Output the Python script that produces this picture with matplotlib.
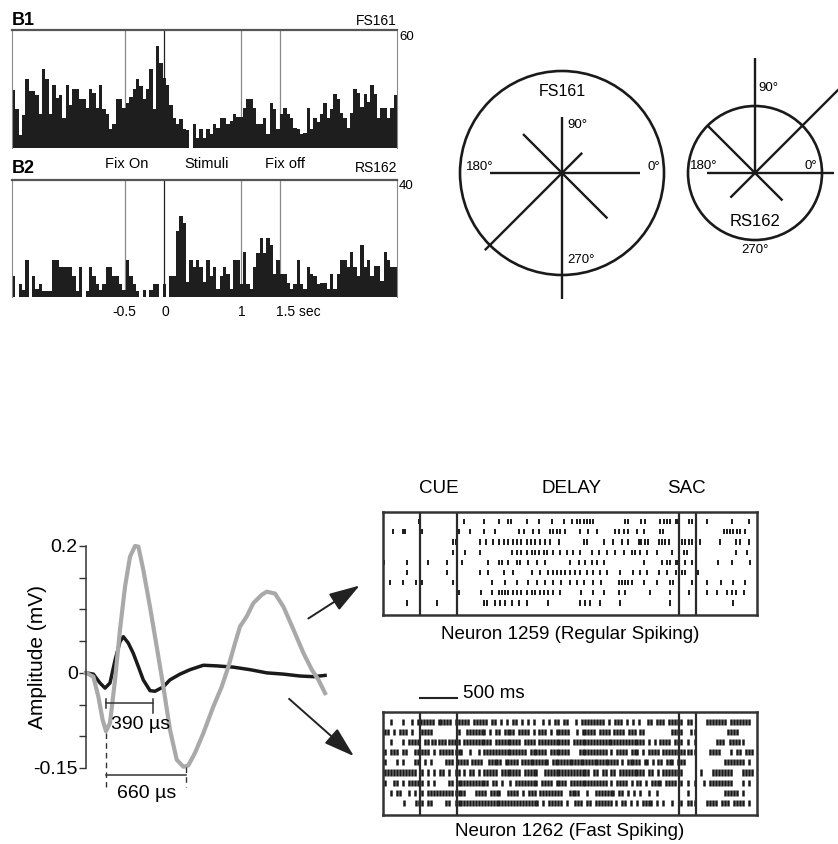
import numpy as np
import matplotlib.pyplot as plt
from matplotlib.patches import Circle, FancyArrowPatch
import matplotlib.transforms as mtransforms

plt.rcParams['font.family'] = ['Liberation Sans', 'DejaVu Sans']

# ---------------- data ----------------
# PSTH (spikes/s), bins from -1.95 s to 3.0 s
b1_rates = [29.7, 20, 6.7, 17, 35, 29, 29, 27, 17.5, 40, 35, 17.5, 32, 25.5, 27, 15.5,
            32, 22, 30, 30, 25, 25, 20.5, 30, 28, 20.5, 32, 19.7, 17.5, 9.6, 12, 25,
            25, 20.5, 23, 26, 30, 35, 31.4, 25, 30, 40, 19.7, 52, 43, 35.6, 32, 22,
            15.5, 12, 15, 9.6, 9, 0, 12.4, 5,
            9.6, 5, 9.6, 7, 12.4, 10.4, 15.5, 15.5, 12, 13.8, 17.5, 15.8, 15.8, 20.5,
            25, 25, 20.5, 12, 12, 15.5, 7, 22.7, 19.7, 9.6, 17.5, 20.5, 17.5, 15.5,
            10.4, 9.6, 7, 7.4, 20.5, 9.6, 15.5, 13, 17.5, 22.7, 15.5, 20, 27.7, 25,
            18, 15.5, 10.4, 18, 30, 28, 21, 27.7, 23.5, 32, 27.7, 15.5, 20.5, 20.5,
            15.5, 20.5, 27]
b2_rates = [7.1, 0, 4.5, 2.3, 12.6, 0, 7.1, 2.6, 4.5, 2, 2, 2, 12.6, 12.6, 10.2, 10.2,
            10.2, 10.2, 7.1, 2, 10.2, 0, 2, 10.2, 7.1, 4.5, 2.3, 4.5, 10.2, 10.2, 7.1,
            7.1, 4.5, 2.3, 12.6, 7.1, 4.5, 2, 0, 2.3, 0, 2.3, 4.5, 4.5, 0, 4.5, 0, 7.1,
            7.1, 22.4, 27.8, 25.3, 5, 12.6, 10.2, 12.6, 10.2, 5,
            12.8, 7.1, 10.2, 2.6, 7.1, 10.2, 7.7, 2.6, 12.8, 12.8, 4.5, 15.4, 4.5, 2.6,
            10.2, 15, 20.2, 15, 20.2, 17.9, 7.7, 12.8, 7.7, 7.7, 4.8, 2.6, 4.5, 12.8,
            4.5, 2.6, 10.2, 7.7, 7.1, 4.5, 4.8, 4.8, 2.6, 7.7, 2.6, 7.7, 12.8, 12.8,
            10.2, 15.4, 10.2, 7.1, 17.9, 10.2, 12.8, 7.1, 10.5, 10.5, 5.4, 15.4, 12.8,
            10.2, 10.2]
psth_events = [-0.5, 0, 1, 1.5]

# directional tuning (response relative to circle radius)
directions = [0, 45, 90, 135, 180, 225, 270, 315]
fs161_resp = [0.76, 0.28, 0.55, 0.54, 0.71, 1.07, 1.24, 0.63]
rs162_resp = [1.18, 2.0, 1.72, 1.0, 0.72, 0.52, 0.0, 0.58]

# spike waveforms: time (us), amplitude (mV)
t_rs = [0, 61, 116, 158, 199, 241, 282, 310, 351, 392, 434, 475, 531, 573, 642, 697,
        780, 863, 974, 1085, 1223, 1362, 1500, 1639, 1777, 1888, 1984]
v_rs = [0, -0.002, -0.016, -0.024, -0.016, 0.020, 0.049, 0.057, 0.047, 0.031, 0.010,
        -0.011, -0.028, -0.029, -0.022, -0.011, -0.002, 0.005, 0.012, 0.011, 0.009,
        0.005, 0.0, -0.002, -0.005, -0.006, -0.004]
t_fs = [0, 61, 102, 138, 166, 199, 241, 282, 324, 365, 407, 435, 476, 531, 587, 642,
        697, 753, 808, 849, 905, 974, 1057, 1126, 1182, 1237, 1278, 1334, 1389, 1458,
        1500, 1569, 1639, 1722, 1805, 1874, 1929, 1984]
v_fs = [0, -0.006, -0.037, -0.074, -0.092, -0.079, -0.011, 0.068, 0.136, 0.183, 0.200,
        0.199, 0.162, 0.104, 0.041, -0.022, -0.090, -0.137, -0.148, -0.146, -0.126,
        -0.095, -0.053, -0.022, 0.010, 0.047, 0.073, 0.089, 0.110, 0.123, 0.128, 0.125,
        0.104, 0.068, 0.031, 0.005, -0.011, -0.032]

# rasters: task epochs (s)
task_events = [0, 0.5, 3.5, 3.73]
rs_trials = [
    [-0.02, 0.59, 0.86, 1.06, 1.19, 1.23, 1.44, 1.60, 1.78, 1.94, 2.05, 2.12, 2.16, 2.22,
     2.25, 2.30, 2.34, 2.77, 2.81, 2.99, 3.04, 3.24, 3.29, 3.33, 3.38, 3.45, 3.49, 3.63,
     3.67, 3.72, 3.87, 4.21, 4.44],
    [-0.36, -0.23, -0.20, 0.02, 0.52, 0.68, 0.86, 1.01, 1.33, 1.40, 1.53, 1.60, 1.76,
     1.80, 1.85, 1.89, 1.96, 2.16, 2.27, 2.39, 2.63, 2.68, 2.75, 2.81, 2.93, 3.02, 3.24,
     3.28, 4.10, 4.14, 4.19, 4.23, 4.28, 4.32, 4.39],
    [0.45, 0.49, 0.81, 0.89, 0.99, 1.06, 1.13, 1.19, 1.25, 1.31, 1.37, 1.44, 1.50, 1.55,
     1.62, 1.69, 1.76, 1.87, 2.21, 2.25, 2.48, 2.61, 2.73, 2.81, 2.95, 2.99, 3.04, 3.08,
     3.22, 3.27, 3.31, 3.36, 3.54, 3.58, 3.63, 3.67, 3.72, 3.78, 4.05, 4.26, 4.32, 4.44],
    [0.44, 0.61, 0.81, 1.24, 1.31, 1.37, 1.44, 1.51, 1.55, 1.61, 1.67, 1.71, 1.80, 1.89,
     1.98, 2.07, 2.16, 2.32, 2.41, 2.52, 2.63, 2.75, 2.86, 2.90, 2.97, 3.06, 3.20, 3.40,
     3.56, 3.60, 4.26, 4.41],
    [-0.48, -0.18, 0.11, 0.36, 0.56, 0.92, 1.06, 1.11, 1.19, 1.31, 1.35, 1.46, 1.58, 1.69,
     2.03, 2.14, 2.23, 2.32, 2.39, 2.48, 3.02, 3.27, 3.33, 3.38, 3.45, 3.49, 3.58, 3.67,
     4.03, 4.21, 4.46],
    [-0.18, 0.36, 0.81, 0.92, 1.13, 1.26, 1.51, 1.62, 1.73, 1.80, 1.85, 1.91, 1.96, 2.03,
     2.09, 2.16, 2.25, 2.34, 2.43, 2.52, 2.70, 2.88, 2.97, 3.06, 3.22, 3.33, 3.45, 3.54,
     3.58, 3.76],
    [-0.41, -0.23, -0.05, 0.02, 0.45, 0.97, 1.15, 1.31, 1.46, 1.58, 1.69, 1.80, 1.91,
     2.03, 2.12, 2.21, 2.34, 2.45, 2.68, 2.73, 2.77, 2.81, 2.86, 3.02, 3.20, 3.38, 3.42,
     3.67, 3.87, 4.07, 4.23, 4.39],
    [0.52, 0.83, 0.97, 1.06, 1.11, 1.15, 1.19, 1.26, 1.31, 1.37, 1.44, 1.51, 1.55, 1.62,
     1.67, 1.73, 1.80, 1.89, 2.18, 2.34, 2.48, 2.68, 2.77, 3.11, 3.38, 3.63, 3.87, 4.01,
     4.14, 4.21, 4.26, 4.37],
    [-0.18, 0.23, 0.86, 0.90, 1.01, 1.08, 1.15, 1.24, 1.33, 1.44, 1.73, 2.16, 2.23, 2.30,
     2.43, 2.70, 3.38, 4.23],
]
# fast spiking trials: one char per time slot, '/' splits the epochs
fs_trials = [
    "  |   |  | |/||||| ||||| |/|||| ||||| || | | || | | |  | | || ||  | |||||||| | ||| | | |  || ||| ||||/| || /   ||||||| |||||||  ",
    "|| | ||| |  /||||        /|  ||||||| | || |||| |||| | ||| | |||||  | ||||| |||| |||| ||| ||         |||/|  ||/          ||||      ",
    "  |   | ||||/ ||||||||||/| |||||||||| ||||||||| |||| ||||||||||| ||||||||||||||||||||||||| | | |||| ||/| | |/      ||| |||||    ",
    "| ||| ||  ||/||| | ||||||/||  |  | ||||||||||||||| |||||| |||||||   |||||||||| | |||| ||| | |||| ||||||/|||||/    ||||   | || ||| ",
    "|   | |   ||/ | |    ||| /|||| ||||  ||||| ||||| |||||||||| |||||||||||||||||||||||| | ||||| || | || ||| |/||   /         ||||||| |  ",
    "||||||||||| /| | | || | |/| | || | ||||| ||||||| |||||  |||||||||||||||| || || || ||||||||| || | ||||||/|    / |   |||||||   |||| ",
    "|  || | ||||/| | |    || /||||||||||| || |  | |||||||| |||| |||| ||||||||||||| | |||| | || | |||| |||| /| | |/  | ||||||||   | |  ",
    "  | ||  | | /| ||||||||||/|||   |||| ||||  |||| | ||| ||||||||  ||||  |  ||||||| || | | |  |  |       /  |  /         ||||| |    ",
    "       |   ||/| ||    || |/|||||||||||||||||||||||||||| | ||||| |  ||| || |||||| | || | | |||| | |  |  /| |||/   |||| ||| |||| |  ",
]
epoch_edges = [-0.5, 0.0, 0.5, 3.5, 3.73, 4.55]

# ---------------- layout helpers ----------------
W, H = 838, 844


def box(x0, y0, x1, y1):
    return [x0 / W, 1 - y1 / H, (x1 - x0) / W, (y1 - y0) / H]


def fig_pt(x, y):
    return (x / W, 1 - y / H)


fig = plt.figure(figsize=(W / 100, H / 100), dpi=100)
fig.patch.set_facecolor('white')


# ---------------- PSTHs ----------------
def psth(rect, rates, ymax, name, cell, toplab, yname, ytop):
    ax = fig.add_axes(rect)
    edges = np.linspace(-1.95, 3.0, len(rates) + 1)
    ax.bar(edges[:-1], rates, width=np.diff(edges), align='edge',
           color='#1e1e1e', linewidth=0, zorder=2)
    for t in psth_events:
        ax.axvline(t, color='#222222' if t == 0 else '#8a8a8a', lw=0.9, zorder=1)
    ax.set_xlim(-1.95, 3.0)
    ax.set_ylim(0, ymax)
    ax.set_xticks([])
    ax.set_yticks([])
    ax.spines['top'].set_linewidth(1.6)
    ax.spines['top'].set_color('#555555')
    for s in ['left', 'right']:
        ax.spines[s].set_linewidth(0.8)
        ax.spines[s].set_color('#8a8a8a')
    ax.spines['bottom'].set_visible(False)
    ax.text(0.0, ytop, name, transform=ax.transAxes, fontsize=13,
            fontweight='bold', ha='left', va='center')
    ax.text(1.0, ytop, cell, transform=ax.transAxes, fontsize=10,
            ha='right', va='center')
    ax.text(1.005, yname, toplab, transform=ax.transAxes, fontsize=9.5,
            ha='left', va='center')
    return ax


ax_b1 = psth(box(12, 30, 397, 148), b1_rates, 60, 'B1', 'FS161', '60', 0.94, 1.08)
ax_b2 = psth(box(12, 180, 397, 297), b2_rates, 40, 'B2', 'RS162', '40', 0.95, 1.10)

trans = mtransforms.blended_transform_factory(ax_b2.transData, ax_b2.transAxes)
for x, lab in [(-0.47, 'Fix On'), (0.55, 'Stimuli'), (1.56, 'Fix off')]:
    ax_b2.text(x, 1.135, lab, transform=trans, fontsize=10.5, ha='center', va='center')
for x, lab, ha in [(-0.5, '-0.5', 'center'), (0.02, '0', 'center'), (1.0, '1', 'center'),
                   (1.45, '1.5 sec', 'left')]:
    ax_b2.text(x, -0.13, lab, transform=trans, fontsize=10, ha=ha, va='center')


# ---------------- direction tuning ----------------
def tuning(rect, lim, resp, labels):
    ax = fig.add_axes(rect)
    ax.set_xlim(-lim, lim)
    ax.set_ylim(-lim, lim)
    ax.axis('off')
    ax.add_patch(Circle((0, 0), 1, fill=False, lw=1.9, color='#1a1a1a', clip_on=False))
    for d, r in zip(directions, resp):
        a = np.deg2rad(d)
        ax.plot([0, r * np.cos(a)], [0, r * np.sin(a)], color='#1a1a1a',
                lw=1.7, solid_capstyle='butt', clip_on=False)
    for x, y, s, ha, fs in labels:
        ax.text(x, y, s, fontsize=fs, ha=ha, va='center')


tuning(box(417, 28, 707, 318), 145 / 102, fs161_resp,
       [(0, 0.80, 'FS161', 'center', 11.5), (0.05, 0.47, '90°', 'left', 9.5),
        (-0.94, 0.06, '180°', 'left', 9.5), (0.96, 0.06, '0°', 'right', 9.5),
        (0.05, -0.85, '270°', 'left', 9.5)])
tuning(box(625, 43, 885, 303), 130 / 67, rs162_resp,
       [(0.05, 1.27, '90°', 'left', 9.5), (-0.97, 0.10, '180°', 'left', 9.5),
        (0.93, 0.10, '0°', 'right', 9.5), (0, -0.73, 'RS162', 'center', 12),
        (0, -1.15, '270°', 'center', 9.5)])

# ---------------- waveforms ----------------
ax_w = fig.add_axes(box(86, 546, 327, 768))
ax_w.plot(t_rs, v_rs, color='#1a1a1a', lw=2.5, solid_joinstyle='round', clip_on=False)
ax_w.plot(t_fs, v_fs, color='#a9a9a9', lw=3.0, solid_joinstyle='round', clip_on=False)
ax_w.set_xlim(0, 2000)
ax_w.set_ylim(-0.15, 0.2)
for s in ['top', 'right', 'bottom']:
    ax_w.spines[s].set_visible(False)
ax_w.spines['left'].set_linewidth(1.1)
ax_w.spines['left'].set_color('#333333')
ax_w.set_xticks([])
ax_w.set_yticks([-0.15, -0.1, -0.05, 0, 0.05, 0.1, 0.15, 0.2])
ax_w.set_yticklabels(['-0.15', '', '', '0', '', '', '', '0.2'], fontsize=14)
ax_w.tick_params(axis='y', length=5, width=1, pad=1, color='#333333')
ax_w.set_ylabel('Amplitude (mV)', fontsize=15)
ax_w.yaxis.set_label_coords(-0.16, 0.5)

bar_kw = dict(color='#333333', lw=1.1, clip_on=False)
ax_w.plot([166, 556], [-0.047, -0.047], **bar_kw)
ax_w.plot([166, 166], [-0.042, -0.055], **bar_kw)
ax_w.plot([556, 556], [-0.042, -0.064], **bar_kw)
ax_w.plot([166, 826], [-0.161, -0.161], **bar_kw)
ax_w.plot([166, 166], [-0.095, -0.18], color='#333333', lw=1, ls=(0, (4, 3)), clip_on=False)
ax_w.plot([826, 826], [-0.148, -0.18], color='#333333', lw=1, ls=(0, (4, 3)), clip_on=False)
ax_w.text(205, -0.081, '390 µs', fontsize=14, ha='left', va='center')
ax_w.text(500, -0.19, '660 µs', fontsize=14, ha='center', va='center')

for a, b in [((306, 620), (362, 584)), ((287, 697), (356, 758))]:
    fig.patches.append(FancyArrowPatch(fig_pt(*a), fig_pt(*b), transform=fig.transFigure,
                                       arrowstyle='-|>,head_length=0.95,head_width=0.3',
                                       mutation_scale=20, lw=1.4, color='#222222'))


# ---------------- rasters ----------------
def raster(rect, trials, title, tick_len, tick_w, ty):
    ax = fig.add_axes(rect)
    ax.eventplot(trials, lineoffsets=list(range(len(trials))), linelengths=tick_len,
                 linewidths=tick_w, colors='#1a1a1a')
    for t in task_events:
        ax.axvline(t, color='#2a2a2a', lw=1.6)
    ax.set_xlim(-0.5, 4.55)
    ax.set_ylim(9.18, -0.95)
    ax.set_xticks([])
    ax.set_yticks([])
    for s in ax.spines.values():
        s.set_linewidth(1.8)
        s.set_color('#333333')
    ax.text(0.5, ty, title, transform=ax.transAxes, fontsize=13.5,
            ha='center', va='center')
    return ax


def fs_times(row):
    out = []
    for seg, t0, t1 in zip(row.split('/'), epoch_edges[:-1], epoch_edges[1:]):
        dt = (t1 - t0) / len(seg)
        out += [t0 + (i + 0.5) * dt for i, c in enumerate(seg) if c == '|']
    return out


ax_r1 = raster(box(383, 512, 757, 615), rs_trials, 'Neuron 1259 (Regular Spiking)',
               0.5, 1.4, -0.19)
ax_r2 = raster(box(383, 712, 757, 815), [fs_times(r) for r in fs_trials],
               'Neuron 1262 (Fast Spiking)', 0.62, 1.8, -0.165)

tr1 = mtransforms.blended_transform_factory(ax_r1.transData, ax_r1.transAxes)
for x, lab in [(0.25, 'CUE'), (2.05, 'DELAY'), (3.6, 'SAC')]:
    ax_r1.text(x, 1.225, lab, transform=tr1, fontsize=13.5, ha='center', va='center')

ax_r2.plot([0, 0.5], [-2.33, -2.33], color='#222222', lw=1.5, clip_on=False)
ax_r2.text(0.58, -2.8, '500 ms', fontsize=13.5, ha='left', va='center')

fig.savefig('out.png', dpi=100)
